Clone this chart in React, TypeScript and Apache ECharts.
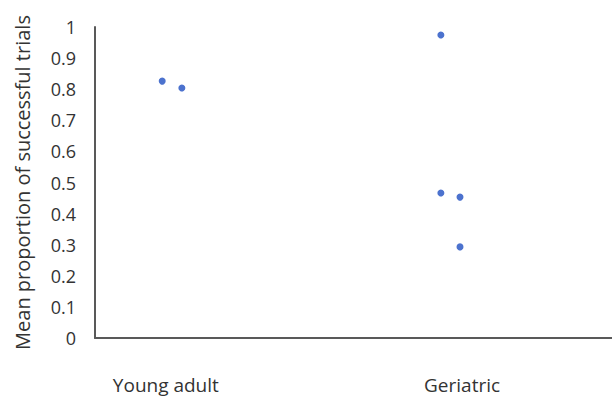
import React, { useEffect, useRef } from "react";
import * as echarts from "echarts";

// Category label positions on a 0–100 horizontal scale
const categories = ["Young adult", "Geriatric"];
const categoryPos = [13.7, 71.0];

// Points: [horizontal position (jittered), mean proportion]
const youngAdult: [number, number][] = [
  [13.0, 0.826],
  [16.8, 0.804],
];
const geriatric: [number, number][] = [
  [66.9, 0.974],
  [66.9, 0.466],
  [70.6, 0.453],
  [70.6, 0.293],
];

const yTicks = [0, 0.1, 0.2, 0.3, 0.4, 0.5, 0.6, 0.7, 0.8, 0.9, 1];

const FONT = "Open Sans";
const TEXT = "#333333";
const AXIS = "#595959";
const BLUE = "#1f4fc2";

export default function App() {
  const ref = useRef<HTMLDivElement>(null);
  useEffect(() => {
    if (!ref.current) return;
    const chart = echarts.init(ref.current, null, { renderer: "svg" });
    chart.setOption({
      animation: false,
      backgroundColor: "#ffffff",
      grid: { left: 95, right: 0, top: 27, bottom: 60, containLabel: false },
      xAxis: {
        type: "value",
        min: 0,
        max: 100,
        splitLine: { show: false },
        axisTick: { show: false },
        axisLine: { show: true, onZero: false, lineStyle: { color: AXIS, width: 2 } },
        axisLabel: {
          customValues: categoryPos,
          margin: 37,
          color: TEXT,
          fontFamily: FONT,
          fontSize: 19,
          formatter: (v: number) => {
            const i = categoryPos.findIndex((p) => Math.abs(p - v) < 1e-6);
            return i >= 0 ? categories[i] : "";
          },
        },
      },
      yAxis: {
        type: "value",
        min: 0,
        max: 1,
        interval: 0.1,
        name: "Mean proportion of successful trials",
        nameLocation: "middle",
        nameRotate: 90,
        nameGap: 63,
        nameTextStyle: { color: TEXT, fontFamily: FONT, fontSize: 20 },
        splitLine: { show: false },
        axisTick: { show: false },
        axisLine: { show: true, lineStyle: { color: AXIS, width: 2 } },
        axisLabel: {
          margin: 19,
          color: TEXT,
          fontFamily: FONT,
          fontSize: 18,
          formatter: (v: number) => {
            const t = yTicks.find((x) => Math.abs(x - v) < 1e-6);
            return t === undefined ? "" : String(Math.round(t * 10) / 10);
          },
        },
      },
      series: [
        {
          type: "scatter",
          data: youngAdult,
          symbol: "circle",
          symbolSize: 7,
          itemStyle: { color: BLUE },
        },
        {
          type: "scatter",
          data: geriatric,
          symbol: "circle",
          symbolSize: 7,
          itemStyle: { color: BLUE },
        },
      ],
    });
    return () => chart.dispose();
  }, []);
  return (
    <div
      ref={ref}
      style={{ position: "fixed", left: 0, top: 0, width: 612, height: 398, background: "#fff" }}
    />
  );
}
